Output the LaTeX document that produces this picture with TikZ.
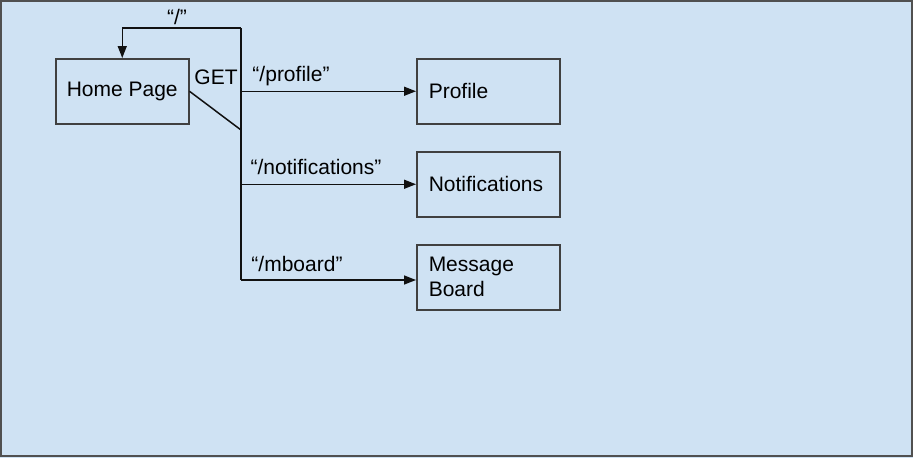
\documentclass[tikz,border=0pt]{standalone}
\usepackage{fontspec}
\setmainfont{Liberation Sans}
\usetikzlibrary{arrows.meta}
\definecolor{bgblue}{HTML}{CFE2F3}
\definecolor{frame}{HTML}{505050}
\definecolor{boxline}{HTML}{404040}
\definecolor{ink}{HTML}{111111}
\begin{document}
\begin{tikzpicture}[x=1pt,y=-1pt,
  box/.style={draw=boxline,line width=1.5pt,minimum height=65pt,inner sep=0pt,font=\fontsize{21}{25}\selectfont},
  leftbox/.style={box,text width=119pt,inner xsep=12pt,align=left,anchor=north west},
  lbl/.style={font=\fontsize{21}{25}\selectfont,inner sep=0pt},
  conn/.style={draw=ink,line width=1.5pt},
  arr/.style={conn,-{Triangle[length=12pt,width=9pt]}}]
\useasboundingbox (0,0) rectangle (913,458);
\fill[bgblue] (0,0) rectangle (913,458);
\draw[frame,line width=2pt] (1,1) rectangle (911.5,456);
\node[box,minimum width=133pt,anchor=north west] (home) at (55,58) {Home Page};
\node[leftbox] (profile) at (416,58) {Profile};
\node[leftbox] (notif) at (416,151) {Notifications};
\node[leftbox] (mboard) at (416,244) {Message\\Board};
\coordinate (vtop) at (241,28);
\coordinate (vbot) at (241,280);
\coordinate (vmid) at (241,130);
\draw[conn] (vtop) -- (vbot);
\draw[conn] (home.east) -- (vmid);
\draw[arr] (vtop) -| (home.north);
\draw[arr] (vtop |- profile.west) -- (profile.west);
\draw[arr] (vtop |- notif.west) -- (notif.west);
\draw[arr] (vbot) -- (vbot -| mboard.west);
\node[lbl] (lroot) at (177,17) {“/”};
\node[lbl] (lget) at (216,77) {GET};
\node[lbl] (lprof) at (291,76) {“/profile”};
\node[lbl] (lnotif) at (316,167) {“/notifications”};
\node[lbl] (lmb) at (297,264) {“/mboard”};
\end{tikzpicture}
\end{document}
